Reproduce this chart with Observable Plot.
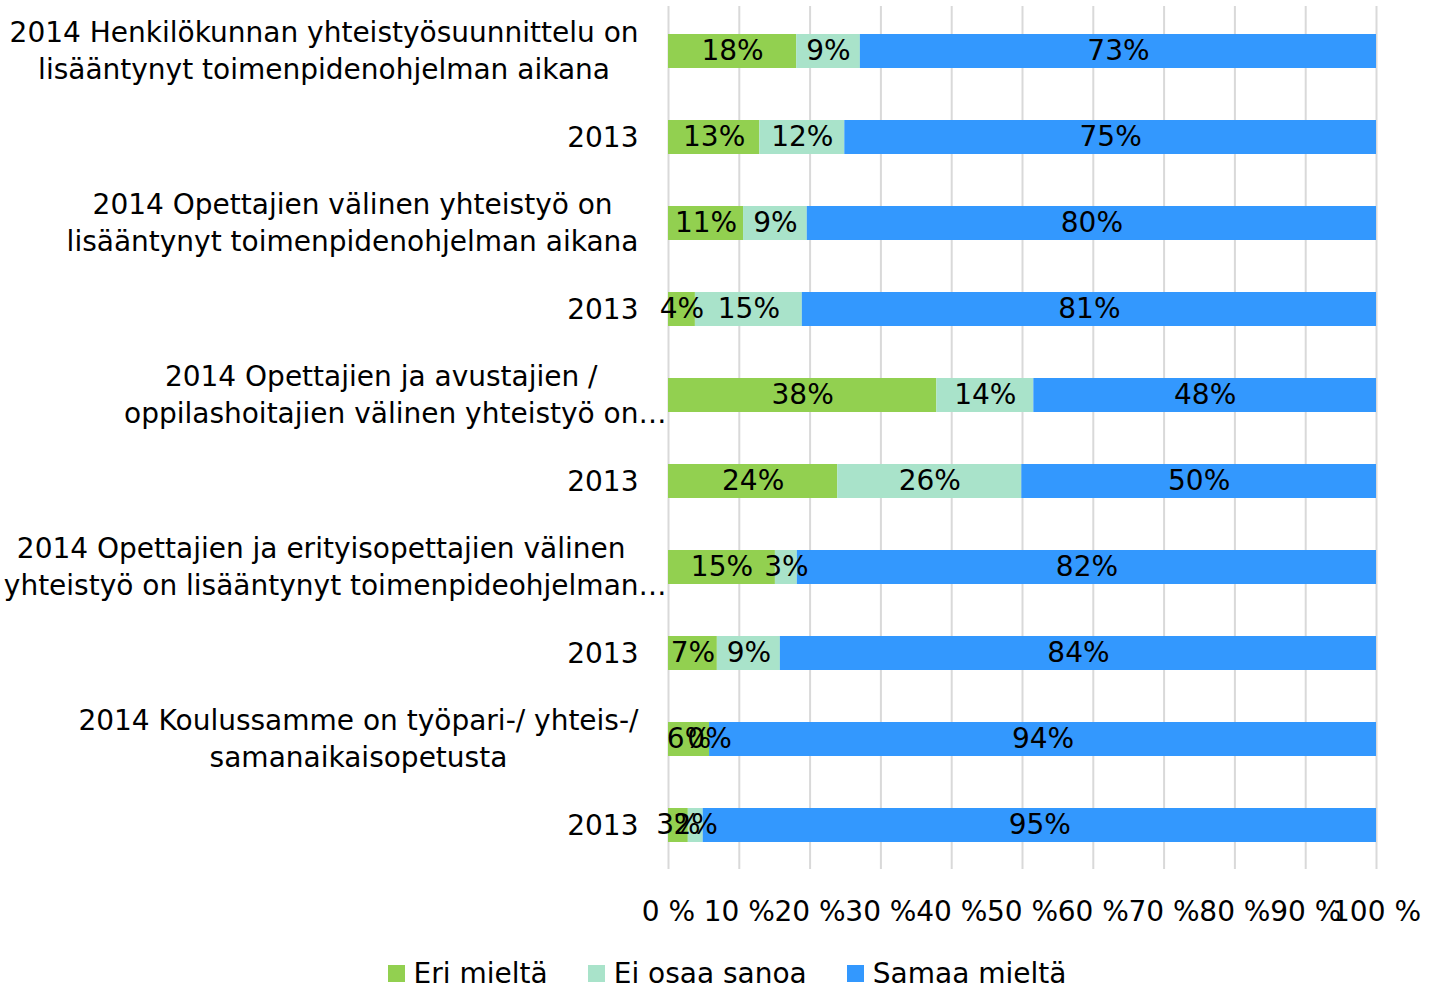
<!DOCTYPE html>
<html><head><meta charset="utf-8">
<script src="https://cdn.jsdelivr.net/npm/d3@7"></script>
<script src="https://cdn.jsdelivr.net/npm/@observablehq/plot@0.6"></script>
<style>
body{margin:0;background:#fff;font-family:"DejaVu Sans",sans-serif;}
#legend{display:flex;justify-content:center;align-items:center;padding-left:25px;margin-top:18px;height:30px;font-size:28px;color:#000;}
#legend .item{display:flex;align-items:center;margin:0 20px;}
#legend .sw{width:17px;height:17px;margin-right:9px;display:inline-block;}
</style>
</head><body>
<div id="chart"></div>
<div id="legend"></div>
<script>
const categories = [
  "2014 Henkilökunnan yhteistyösuunnittelu on\nlisääntynyt toimenpidenohjelman aikana",
  "2013",
  "2014 Opettajien välinen yhteistyö on\nlisääntynyt toimenpidenohjelman aikana",
  "2013",
  "2014 Opettajien ja avustajien /\noppilashoitajien välinen yhteistyö on…",
  "2013",
  "2014 Opettajien ja erityisopettajien välinen\nyhteistyö on lisääntynyt toimenpideohjelman…",
  "2013",
  "2014 Koulussamme on työpari-/ yhteis-/\nsamanaikaisopetusta",
  "2013"
];
const seriesNames = ["Eri mieltä", "Ei osaa sanoa", "Samaa mieltä"];
const seriesColors = ["#92D050", "#A9E3CA", "#3398FE"];
const eriMielta   = [18.1, 12.9, 10.6, 3.8, 37.9, 23.9, 15.1, 6.9, 5.8, 2.8];
const eiOsaaSanoa = [9.0, 12.0, 9.0, 15.1, 13.7, 26.0, 3.1, 8.9, 0, 2.1];
const samaaMielta = [72.9, 75.1, 80.4, 81.1, 48.4, 50.1, 81.8, 84.2, 94.2, 95.1];
const xTicks = [0, 10, 20, 30, 40, 50, 60, 70, 80, 90, 100];

const seriesValues = [eriMielta, eiOsaaSanoa, samaaMielta];
const data = [];
categories.forEach((c, i) => {
  seriesNames.forEach((s, k) => data.push({row: i, series: s, value: seriesValues[k][i]}));
});

const chart = Plot.plot({
  width: 1429,
  height: 940,
  marginLeft: 668,
  marginRight: 53,
  marginTop: 6,
  marginBottom: 71,
  style: {fontFamily: "DejaVu Sans, sans-serif", fontSize: "28px", color: "#000", background: "#fff"},
  x: {domain: [0, 100], label: null},
  y: {domain: d3.range(categories.length), paddingInner: 0.606, paddingOuter: 0.303, label: null},
  color: {domain: seriesNames, range: seriesColors},
  marks: [
    Plot.ruleX(xTicks, {stroke: "#d9d9d9", strokeWidth: 2}),
    Plot.barX(data, {x: "value", y: "row", fill: "series", z: "series"}),
    Plot.text(data, Plot.stackX({x: "value", y: "row", z: "series",
      text: d => Math.round(d.value) + "%", fill: "#000"})),
    Plot.axisX({ticks: xTicks, tickFormat: d => d + " %", tickSize: 0, tickPadding: 32, label: null}),
    Plot.axisY({tickFormat: i => categories[i], tickSize: 0, tickPadding: 30, lineHeight: 1.35, dy: -3, label: null})
  ]
});
document.getElementById("chart").appendChild(chart);

// center the lines of each wrapped category label, as in the original
chart.querySelectorAll('g[aria-label="y-axis tick label"] text').forEach(t => {
  const spans = t.querySelectorAll("tspan");
  if (spans.length < 2) return;
  const widths = Array.from(spans).map(s => {
    const txt = s.textContent;
    if (txt.endsWith("…")) {
      try { return s.getSubStringLength(0, txt.length - 1); } catch (e) { return s.getComputedTextLength(); }
    }
    return s.getComputedTextLength();
  });
  const maxW = Math.max(...widths);
  t.setAttribute("text-anchor", "start");
  spans.forEach((s, k) => s.setAttribute("x", (-maxW / 2 - widths[k] / 2).toFixed(1)));
});

const legend = document.getElementById("legend");
seriesNames.forEach((s, k) => {
  const item = document.createElement("div");
  item.className = "item";
  const sw = document.createElement("span");
  sw.className = "sw";
  sw.style.background = seriesColors[k];
  item.appendChild(sw);
  item.appendChild(document.createTextNode(s));
  legend.appendChild(item);
});
</script>
</body></html>
